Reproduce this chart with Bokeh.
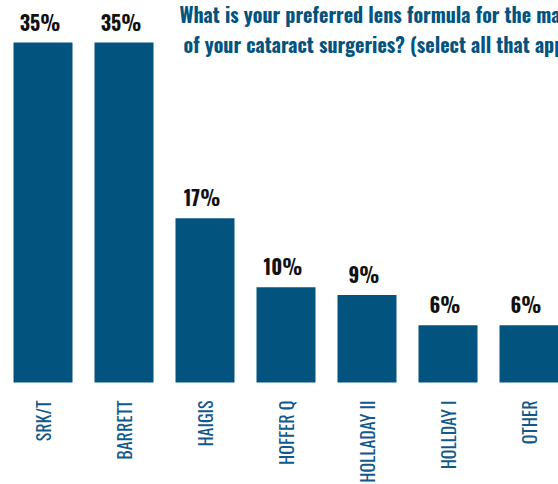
import math
from bokeh.plotting import figure
from bokeh.models import Range1d, ColumnDataSource, Label
from bokeh.core.properties import value
from bokeh.embed import file_html
from bokeh.resources import INLINE

categories = ["SRK/T", "BARRETT", "HAIGIS", "HOFFER Q", "HOLLADAY II", "HOLLDAY I", "OTHER"]
values = [35, 35, 16.9, 9.8, 9.0, 5.9, 5.9]
value_labels = ["35%", "35%", "17%", "10%", "9%", "6%", "6%"]
title_lines = [
    "What is your preferred lens formula for the majority",
    "of your cataract surgeries? (select all that apply)",
]

BLUE = "#03537f"
FONT = "Oswald"

W, H = 558, 484
px_per_unit = 340 / 35  # vertical pixels per percent

idx = list(range(len(categories)))
src = ColumnDataSource(dict(
    x=idx,
    top=values,
    lab=value_labels,
    lab_y=[v + 21 / px_per_unit for v in values],
    cat=categories,
    cat_y=[-18 / px_per_unit] * len(categories),
))

p = figure(width=W, height=H, output_backend="svg", toolbar_location=None,
           min_border=0,
           x_range=Range1d(-42.5 / 81, 515.5 / 81),
           y_range=Range1d(-102 / px_per_unit, 382 / px_per_unit))
p.axis.visible = False
p.grid.visible = False
p.outline_line_color = None
p.background_fill_color = "white"
p.border_fill_color = "white"

p.vbar(x="x", top="top", bottom=0, width=59 / 81, source=src,
       fill_color=BLUE, line_color=None)

p.text(x="x", y="lab_y", text="lab", source=src, x_offset=-3,
       text_align="center", text_baseline="alphabetic",
       text_font=value(FONT), text_font_style="bold",
       text_font_size="20px", text_color="#111111")

p.text(x="x", y="cat_y", text="cat", source=src, angle=math.pi / 2,
       text_align="right", text_baseline="middle",
       text_font=value(FONT), text_font_size="18px", text_color="#12598a")

p.add_layout(Label(x=179, y=H - 13, x_units="screen", y_units="screen",
                   text=title_lines[0], text_font=FONT, text_font_style="bold",
                   text_font_size="20px", text_color=BLUE,
                   text_baseline="alphabetic"))
p.add_layout(Label(x=183, y=H - 43, x_units="screen", y_units="screen",
                   text=title_lines[1], text_font=FONT, text_font_style="bold",
                   text_font_size="20px", text_color=BLUE,
                   text_baseline="alphabetic"))

open("out.html", "w").write(file_html(p, INLINE))
